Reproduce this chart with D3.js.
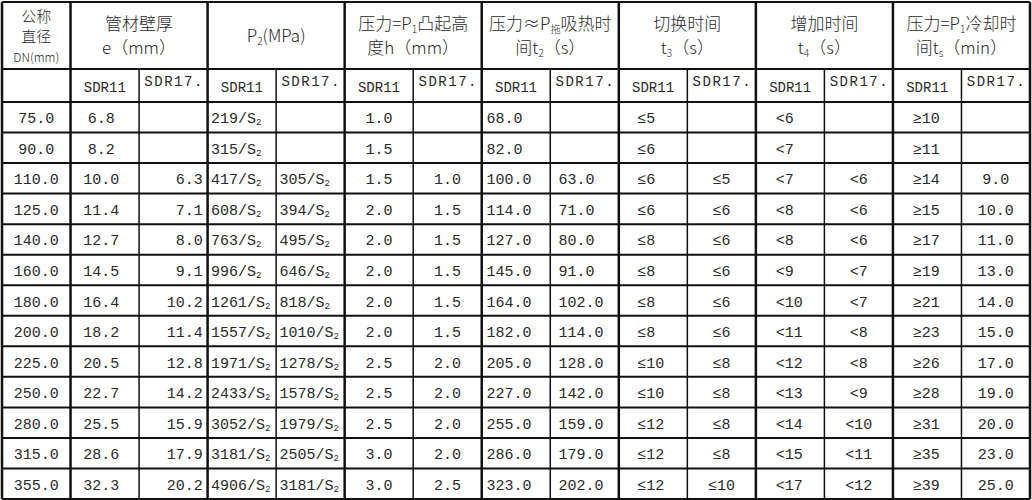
<!DOCTYPE html>
<html><head><meta charset="utf-8">
<script src="https://cdn.jsdelivr.net/npm/d3@7"></script>
<style>body{margin:0;background:#fff}</style>
</head><body><svg id="tbl"></svg>
<script>
const dn   = ["75.0","90.0","110.0","125.0","140.0","160.0","180.0","200.0","225.0","250.0","280.0","315.0","355.0"];
const e11  = ["6.8","8.2","10.0","11.4","12.7","14.5","16.4","18.2","20.5","22.7","25.5","28.6","32.3"];
const e17  = ["","","6.3","7.1","8.0","9.1","10.2","11.4","12.8","14.2","15.9","17.9","20.2"];
const p11  = ["219","315","417","608","763","996","1261","1557","1971","2433","3052","3181","4906"];
const p17  = ["","","305","394","495","646","818","1010","1278","1578","1979","2505","3181"];
const h11  = ["1.0","1.5","1.5","2.0","2.0","2.0","2.0","2.0","2.5","2.5","2.5","3.0","3.0"];
const h17  = ["","","1.0","1.5","1.5","1.5","1.5","1.5","2.0","2.0","2.0","2.0","2.5"];
const t2a  = ["68.0","82.0","100.0","114.0","127.0","145.0","164.0","182.0","205.0","227.0","255.0","286.0","323.0"];
const t2b  = ["","","63.0","71.0","80.0","91.0","102.0","114.0","128.0","142.0","159.0","179.0","202.0"];
const t3a  = ["≤5","≤6","≤6","≤6","≤8","≤8","≤8","≤8","≤10","≤10","≤12","≤12","≤12"];
const t3b  = ["","","≤5","≤6","≤6","≤6","≤6","≤6","≤8","≤8","≤8","≤8","≤10"];
const t4a  = ["<6","<7","<7","<8","<8","<9","<10","<11","<12","<13","<14","<15","<17"];
const t4b  = ["","","<6","<6","<6","<7","<7","<8","<8","<9","<10","<11","<12"];
const t5a  = ["≥10","≥11","≥14","≥15","≥17","≥19","≥21","≥23","≥26","≥28","≥31","≥35","≥39"];
const t5b  = ["","","9.0","10.0","11.0","13.0","14.0","15.0","17.0","19.0","20.0","23.0","25.0"];

// header: [first column index, span, lines]; a line is a list of [text, subscript?]
const headers = [
  [0, 1, [[["公称"]], [["直径"]], [["DN(mm)"]]]],
  [1, 2, [[["管材壁厚"]], [["e（mm）"]]]],
  [3, 2, [[["P"], ["2", 1], ["(MPa)"]]]],
  [5, 2, [[["压力=P"], ["1", 1], ["凸起高"]], [["度h（mm）"]]]],
  [7, 2, [[["压力≈P"], ["拖", 1], ["吸热时"]], [["间t"], ["2", 1], ["（s）"]]]],
  [9, 2, [[["切换时间"]], [["t"], ["3", 1], ["（s）"]]]],
  [11, 2, [[["增加时间"]], [["t"], ["4", 1], ["（s）"]]]],
  [13, 2, [[["压力=P"], ["1", 1], ["冷却时"]], [["间t"], ["s", 1], ["（min）"]]]]
];
const subHead = ["", "SDR11", "SDR17."];

const cols = [dn, e11, e17, p11, p17, h11, h17, t2a, t2b, t3a, t3b, t4a, t4b, t5a, t5b];
// per column alignment: [anchor, offset inside cell]
const align = [["middle",.5],["middle",.45],["end",.93],["start",.05],["start",.05],["middle",.5],["middle",.5],
  ["start",.07],["start",.12],["start",.27],["middle",.5],["start",.29],["middle",.5],["start",.29],["middle",.5]];

const W = 1032, H = 500;
const svg = d3.select("#tbl").attr("width", W).attr("height", H);
const x = d3.scaleLinear().domain([0, 15]).range([2, 1030]);
const hdrY = d3.scaleLinear().domain([0, 1, 2]).range([2, 69, 102]);
const y = d3.scaleLinear().domain([0, dn.length]).range([102, 499]);
const cw = x(1) - x(0), rh = y(1) - y(0);
const font = "'Liberation Mono','Noto Sans CJK SC',monospace";
const cjk = "'Noto Sans CJK SC',sans-serif";

function richLine(t, segs, size) {
  segs.forEach(s => {
    t.append("tspan").text(s[0])
      .attr("font-size", s[1] ? size * 0.6 : size)
      .attr("baseline-shift", s[1] ? "-25%" : null);
  });
}

const g = svg.append("g").attr("fill", "#2a2a2a");
headers.forEach(([c, span, lines]) => {
  const cx = x(c) + span * cw / 2;
  const size = c === 0 ? 15 : 17;
  const lh = c === 0 ? 20 : 24;
  const y0 = (hdrY(0) + hdrY(1)) / 2 - (lines.length - 1) * lh / 2 + 6;
  lines.forEach((ln, i) => {
    const t = g.append("text").attr("x", cx).attr("y", y0 + i * lh)
      .attr("text-anchor", "middle").attr("font-family", cjk).attr("font-weight", 300);
    const sz = (c === 0 && i === 2) ? 12 : size;
    richLine(t, ln, sz);
  });
});

d3.range(1, 15).forEach(c => {
  g.append("text").attr("x", x(c) + cw / 2).attr("y", c % 2 ? 92 : 86)
    .attr("text-anchor", "middle").attr("font-family", font).attr("font-size", 14)
    .attr("textLength", c % 2 ? null : 58)
    .text(subHead[c % 2 ? 1 : 2]);
});

cols.forEach((col, c) => {
  const [anchor, off] = align[c];
  g.selectAll(null).data(col).join("text")
    .attr("x", x(c) + off * cw)
    .attr("y", (d, i) => y(i) + rh / 2 + 6)
    .attr("text-anchor", anchor).attr("font-family", font).attr("font-size", 15)
    .each(function (d) {
      const t = d3.select(this);
      if (!d) return;
      if (c === 3 || c === 4) richLine(t, [[d + "/S"], ["2", 1]], 15);
      else t.text(d);
    });
});

// grid lines
const lines = svg.append("g").attr("stroke", "#111");
const hy = [hdrY(0), hdrY(1), hdrY(2)].concat(d3.range(1, dn.length + 1).map(y));
lines.selectAll(".h").data(hy).join("line").attr("class", "h")
  .attr("x1", x(0)).attr("x2", x(15)).attr("y1", d => d).attr("y2", d => d)
  .attr("stroke-width", 2);
lines.selectAll(".v").data(d3.range(0, 16)).join("line").attr("class", "v")
  .attr("x1", d => x(d)).attr("x2", d => x(d))
  .attr("y1", d => (d % 2 === 0 && d > 0 && d < 15) ? hdrY(1) : hdrY(0)).attr("y2", y(dn.length))
  .attr("stroke-width", d => (d % 2 === 0 && d > 0 && d < 15) ? 1.5 : 2.5);
</script></body></html>
